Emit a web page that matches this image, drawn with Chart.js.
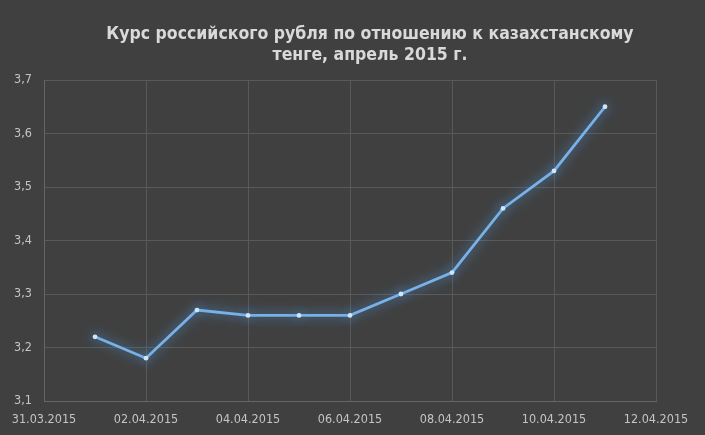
<!DOCTYPE html>
<html>
<head>
<meta charset="utf-8">
<script src="https://cdn.jsdelivr.net/npm/chart.js@4"></script>
<style>
  html, body { margin: 0; padding: 0; background: #404040; }
  #wrap { width: 705px; height: 435px; }
</style>
</head>
<body>
<div id="wrap"><canvas id="rubChart"></canvas></div>
<script>
// days counted from 31.03.2015 (= 0)
const dayIndex = [1, 2, 3, 4, 5, 6, 7, 8, 9, 10, 11];
const rates = [3.22, 3.18, 3.27, 3.26, 3.26, 3.26, 3.30, 3.34, 3.46, 3.53, 3.65];
const xTickLabels = ["31.03.2015", "02.04.2015", "04.04.2015", "06.04.2015",
                     "08.04.2015", "10.04.2015", "12.04.2015"];
const titleLines = ["Курс российского рубля по отношению к казахстанскому",
                    "тенге, апрель 2015 г."];

const FONT = "'DejaVu Sans Condensed', 'Liberation Sans Narrow', sans-serif";

// soft blue glow around the line, like the Excel effect
const glowPlugin = {
  id: "glow",
  beforeDatasetsDraw(chart) {
    const c = chart.ctx;
    c.save();
    c.shadowColor = "rgba(80,150,220,1)";
    c.shadowBlur = 12;
  },
  afterDatasetsDraw(chart) {
    chart.ctx.restore();
  }
};

// two-line title, centred a bit right of the canvas middle as in Excel
const titlePlugin = {
  id: "excelTitle",
  afterDraw(chart) {
    const c = chart.ctx;
    c.save();
    c.fillStyle = "#d9d9d9";
    c.font = "bold 17.5px " + FONT;
    c.textAlign = "center";
    c.textBaseline = "alphabetic";
    titleLines.forEach((line, i) => c.fillText(line, 370, 39 + i * 21));
    c.restore();
  }
};

new Chart(document.getElementById("rubChart"), {
  type: "line",
  data: {
    datasets: [{
      data: dayIndex.map((d, i) => ({ x: d, y: rates[i] })),
      borderColor: "#78b2e8",
      borderWidth: 2.8,
      pointRadius: 2.4,
      pointBorderWidth: 0,
      pointBackgroundColor: "#cfe5f8",
      tension: 0
    }]
  },
  options: {
    responsive: true,
    maintainAspectRatio: false,
    animation: false,
    layout: { padding: { left: 0, right: 49, top: 80, bottom: 0 } },
    scales: {
      x: {
        type: "linear",
        min: 0,
        max: 12,
        afterBuildTicks: s => { s.ticks = xTickLabels.map((_, i) => ({ value: i * 2 })); },
        afterFit: s => { s.height = 34; },
        grid: { color: "#595959", lineWidth: 1, drawTicks: false },
        border: { color: "#666666" },
        ticks: {
          color: "#c4c4c4",
          font: { family: FONT, size: 12.5 },
          padding: 11,
          maxRotation: 0,
          autoSkip: false,
          callback: (v) => xTickLabels[Math.round(v / 2)]
        }
      },
      y: {
        min: 3.1,
        max: 3.7,
        afterFit: s => { s.width = 44; },
        grid: { color: "#595959", lineWidth: 1, drawTicks: false },
        border: { color: "#666666" },
        ticks: {
          stepSize: 0.1,
          color: "#c4c4c4",
          font: { family: FONT, size: 12.5 },
          padding: 12,
          callback: v => v.toFixed(1).replace(".", ",")
        }
      }
    },
    plugins: {
      legend: { display: false },
      tooltip: { enabled: false },
      title: { display: false }
    }
  },
  plugins: [glowPlugin, titlePlugin]
});
</script>
</body>
</html>
